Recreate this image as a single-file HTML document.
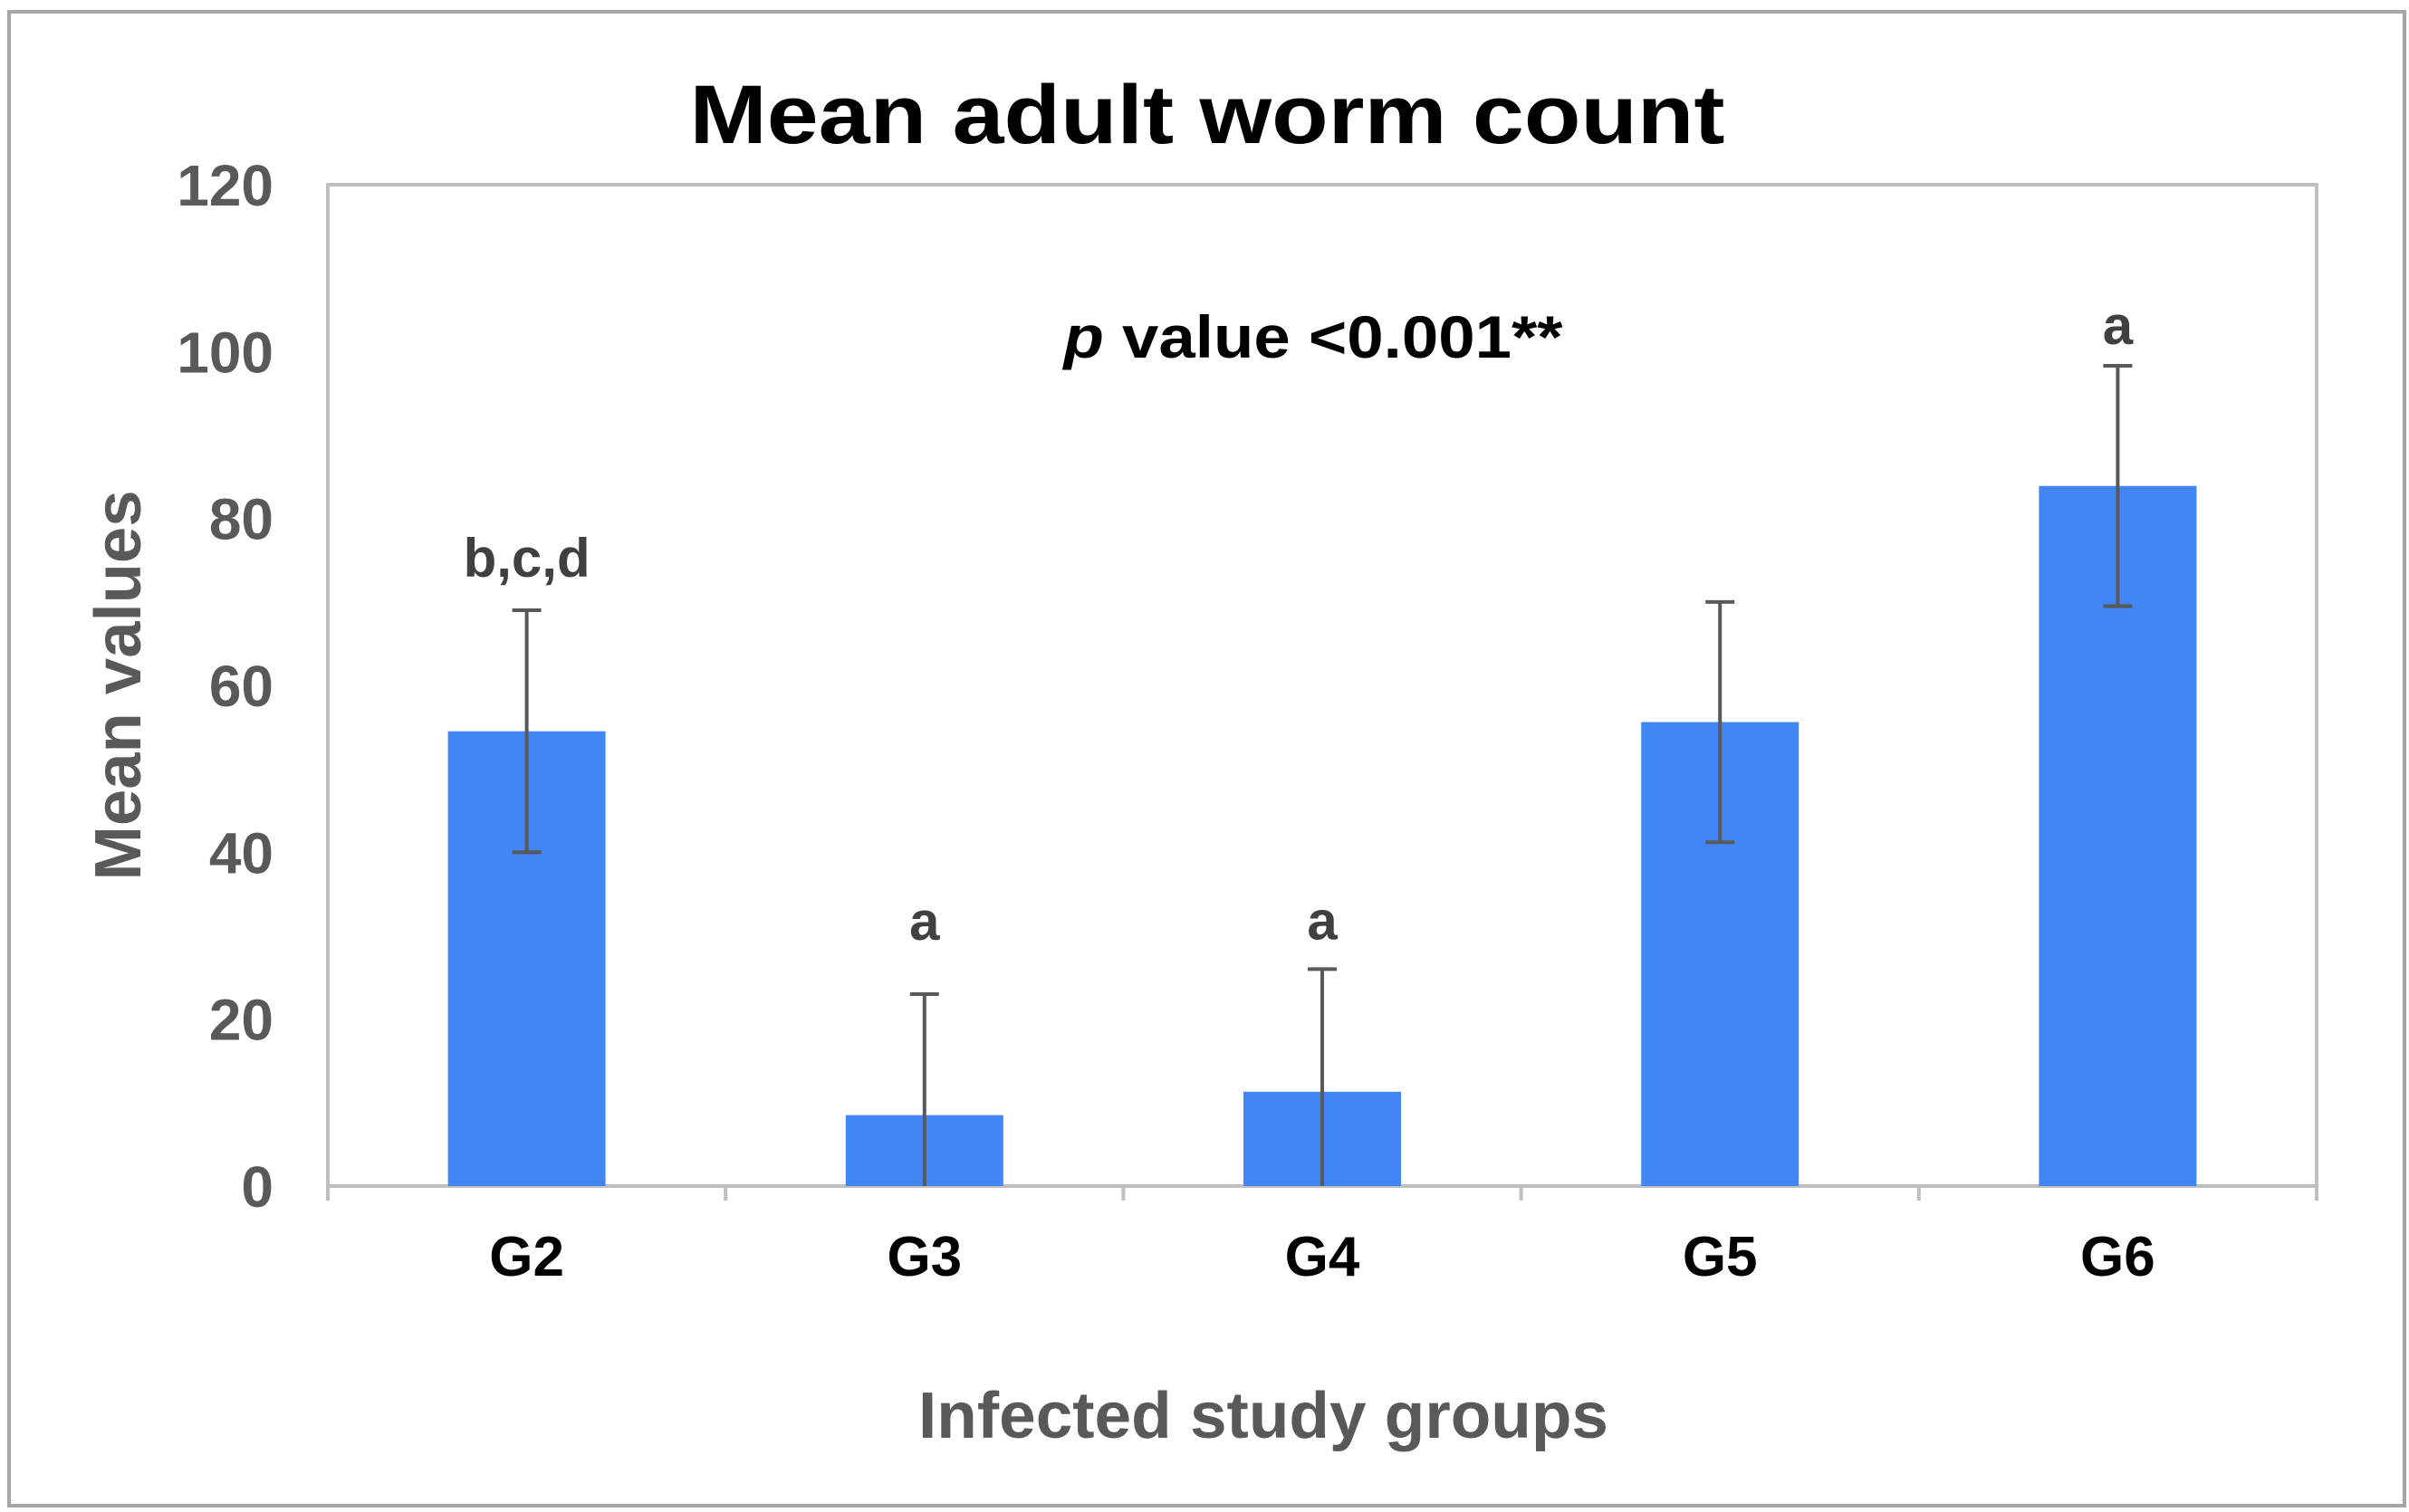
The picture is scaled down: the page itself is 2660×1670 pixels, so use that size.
<!DOCTYPE html>
<html><head><meta charset="utf-8"><style>
html,body{margin:0;padding:0;background:#fff;}
svg{display:block;font-family:"Liberation Sans",sans-serif;font-weight:bold;}
</style></head><body>
<svg id="chart" width="2660" height="1670" viewBox="0 0 2660 1670" xmlns="http://www.w3.org/2000/svg">
<rect x="10" y="13" width="2645" height="1650" fill="#fff" stroke="#a6a6a6" stroke-width="4"/>
<text x="1333" y="158" text-anchor="middle" font-size="92" fill="#000" textLength="1143" lengthAdjust="spacingAndGlyphs">Mean adult worm count</text>
<rect x="362" y="204" width="2196" height="1106" fill="none" stroke="#bfbfbf" stroke-width="4"/>
<g id="yticks"></g><g id="xticks"></g><g id="bars"></g>
<text x="1450" y="395" text-anchor="middle" font-size="66" fill="#000" textLength="551" lengthAdjust="spacingAndGlyphs"><tspan font-style="italic">p</tspan> value &lt;0.001**</text>
<text x="1395" y="1588" text-anchor="middle" font-size="72" fill="#595959" textLength="762" lengthAdjust="spacingAndGlyphs">Infected study groups</text>
<text x="0" y="0" transform="translate(155,757) rotate(-90)" text-anchor="middle" font-size="72" fill="#595959" textLength="431" lengthAdjust="spacingAndGlyphs">Mean values</text>
</svg>
<script>
const categories = ["G2","G3","G4","G5","G6"];
const means = [54.5, 8.5, 11.3, 55.6, 83.9];
const errors = [14.5, 14.5, 14.7, 14.4, 14.4];
const sigLetters = ["b,c,d","a","a","","a"];
const yTicks = [0,20,40,60,80,100,120];

const NS = "http://www.w3.org/2000/svg";
const L=362, R=2558, T=204, B=1310, yMax=120;
const letterGap = [37, 60, 33, 40, 24];
const y = v => B - (v/yMax)*(B-T);
const bw = (R-L)/categories.length;
const xc = i => L + bw*(i+0.5);
function mk(tag, attrs, parent){const e=document.createElementNS(NS,tag);for(const k in attrs)e.setAttribute(k,attrs[k]);parent.appendChild(e);return e;}
const gy=document.getElementById('yticks'), gx=document.getElementById('xticks'), gb=document.getElementById('bars');
yTicks.forEach(t=>{
  const e=mk('text',{x:302,y:y(t)+23,'text-anchor':'end','font-size':64,fill:'#595959'},gy);
  
  
  e.textContent=t;
});
for(let i=0;i<=categories.length;i++){
  const e=mk('line',{x1:L+bw*i,x2:L+bw*i,y1:B,y2:B+16,stroke:'#bfbfbf','stroke-width':4},gx);
  
  
}
categories.forEach((c,i)=>{
  const lab=mk('text',{x:xc(i),y:B+99,'text-anchor':'middle','font-size':62,fill:'#000'},gx);
  
  
  lab.textContent=c;
  const w=174;
  const bar=mk('rect',{x:xc(i)-w/2,y:y(means[i]),width:w,height:B-y(means[i]),fill:'#4285f4'},gb);
  
  
  const top=y(means[i]+errors[i]), bot=y(Math.max(0,means[i]-errors[i]));
  const eb=mk('line',{x1:xc(i),x2:xc(i),y1:top,y2:bot,stroke:'#595959','stroke-width':4},gb);
  
  
  const c1=mk('line',{x1:xc(i)-16,x2:xc(i)+16,y1:top,y2:top,stroke:'#595959','stroke-width':4},gb);
  
  
  if(means[i]-errors[i]>0){
    const c2=mk('line',{x1:xc(i)-16,x2:xc(i)+16,y1:bot,y2:bot,stroke:'#595959','stroke-width':4},gb);
    
    
  }
  const letter = sigLetters[i];
  if(letter){
    const s=mk('text',{x:xc(i),y:top-letterGap[i],'text-anchor':'middle','font-size':60,fill:'#404040'},gb);
    
    
    s.textContent=letter;
  }
});
</script>
</body></html>
